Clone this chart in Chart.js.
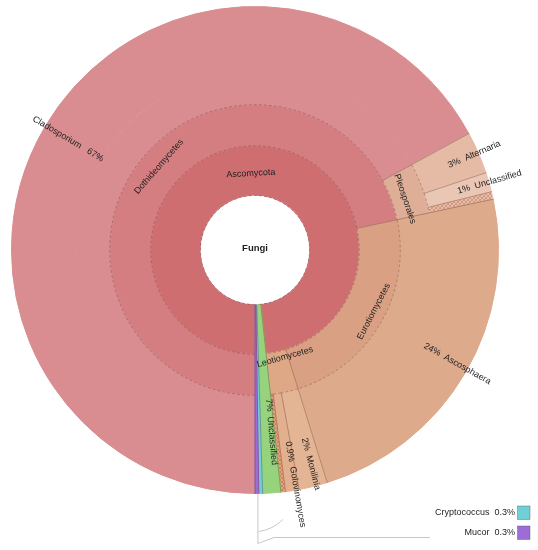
<!DOCTYPE html>
<html><head><meta charset="utf-8">
<script src="https://cdn.jsdelivr.net/npm/chart.js@4.4.1/dist/chart.umd.min.js"></script>
<style>html,body{margin:0;padding:0;background:#fff;}#wrap{position:relative;width:538px;height:550px;}</style>
</head><body><div id="wrap"><canvas id="c" width="538" height="550"></canvas></div>
<script>
// ---------------- data (percent of all reads) ----------------
const rootName = 'Fungi';
const leafNames   = ['Cladosporium','Alternaria','Unclassified','Other Pleosporales','Ascosphaera','Monilinia','Golovinomyces','Other Leotiomycetes','Unclassified','Cryptococcus','Mucor'];
const leafValues  = [67.2, 2.8, 1.3, 0.5, 23.6, 1.9, 0.9, 0.3, 1.2, 0.25, 0.25];
const leafPercentText = ['67%','3%','1%','','24%','2%','0.9%','','7%','0.3%','0.3%'];
const orderNames  = ['Capnodiales','Pleosporales','Onygenales','Helotiales','Erysiphales','Other Leotiomycetes','Unclassified','Cryptococcus','Mucor'];
const orderValues = [67.2, 4.6, 23.6, 1.9, 0.9, 0.3, 1.2, 0.25, 0.25];
const classNames  = ['Dothideomycetes','Eurotiomycetes','Leotiomycetes','Unclassified','Cryptococcus','Mucor'];
const classValues = [71.8, 23.6, 3.1, 1.2, 0.25, 0.25];
const phylumNames  = ['Ascomycota','Unclassified','Basidiomycota','Mucoromycota'];
const phylumValues = [98.5, 1.2, 0.25, 0.25];
const keyNames = ['Cryptococcus','Mucor'];
const keyPercentText = ['0.3%','0.3%'];

// ---------------- styles ----------------
function hatch(base, line){
  const c=document.createElement('canvas');c.width=4;c.height=4;
  const g=c.getContext('2d');g.fillStyle=base;g.fillRect(0,0,4,4);
  g.strokeStyle=line;g.lineWidth=0.8;g.beginPath();g.moveTo(0,4);g.lineTo(4,0);g.moveTo(0,0);g.lineTo(4,4);g.stroke();
  return g.createPattern(c,'repeat');
}
const col = {
  clad:'#d98d90', doth:'#d57e81', ascomy:'#cf6e71',
  alt:'#e5bba6', pleoUnc:'#eac6b4', pleo:'#dfae97',
  ascos:'#deaa8c', euro:'#d9a084',
  monil:'#e4b594', golov:'#e2b08f', leo:'#dea886',
  unc:'#97d27c', crypto:'#6fd0d5', mucor:'#9c6dd7',
  pleoH:'#e8bea8', leoH:'#e2a67e'
};
const pleoHatch = hatch(col.pleoH,'#c99278');
const leoHatch = hatch(col.leoH,'#c17c55');
const leafColors   = [col.clad,col.alt,col.pleoUnc,pleoHatch,col.ascos,col.monil,col.golov,leoHatch,col.unc,col.crypto,col.mucor];
const leafEdge     = [col.clad,col.alt,col.pleoUnc,col.pleoH,col.ascos,col.monil,col.golov,col.leoH,col.unc,col.crypto,col.mucor];
const orderColors  = [col.clad,col.pleo,col.ascos,col.monil,col.golov,leoHatch,col.unc,col.crypto,col.mucor];
const orderEdge    = [col.clad,col.pleo,col.ascos,col.monil,col.golov,col.leoH,col.unc,col.crypto,col.mucor];
const classColors  = [col.doth,col.euro,col.leo,col.unc,col.crypto,col.mucor];
const phylumColors = [col.ascomy,col.unc,col.crypto,col.mucor];

const FONT = '"Liberation Sans", Arial, sans-serif';
const TXT = '#1e1e1e';

// label layout
const labelSpecs = [
  {ds:3,i:0,text:phylumNames[0],mode:'tangent',f:0.44},
  {ds:2,i:0,text:classNames[0],mode:'tangent',f:0.56,dA:2},
  {ds:2,i:1,text:classNames[1],mode:'tangent',f:0.72,dA:-3},
  {ds:2,i:2,text:classNames[2],mode:'tangent',f:0.17,dA:-4},
  {ds:1,i:1,text:orderNames[1],mode:'tangent',f:0.4,dA:1.5},
  {ds:0,i:0,mode:'radial',innerDs:1,shift:23,center:true},
  {ds:0,i:1,mode:'radial',innerDs:0},
  {ds:0,i:2,mode:'radial',innerDs:0},
  {ds:0,i:4,mode:'radial',innerDs:1,dA:-1},
  {ds:0,i:5,mode:'radial',innerDs:1,dA:-0.8},
  {ds:0,i:6,mode:'radial',innerDs:1,dA:-1},
  {ds:0,i:8,mode:'radial',innerDs:3,dA:-1.2}
];

const bordersPlugin = {
  id:'kronaBorders',
  afterDatasetsDraw(chart){
    const ctx=chart.ctx, ds=chart.data.datasets, n=ds.length;
    ctx.save();
    ctx.strokeStyle='rgba(105,55,50,0.55)';
    ctx.lineWidth=0.7;
    for(let d=0;d<n;d++){
      const meta=chart.getDatasetMeta(d);
      const inner = d+1<n ? chart.getDatasetMeta(d+1) : null;
      const cols=ds[d].backgroundColor;
      meta.data.forEach((arc,i)=>{
        const p=arc.getProps(['x','y','startAngle','endAngle','innerRadius','outerRadius'],true);
        const ro=p.outerRadius+(d===0?0.5:0), ri=p.innerRadius-(d===n-1?0.5:0);
        ctx.setLineDash([]);
        ctx.beginPath();
        ctx.moveTo(p.x+ri*Math.cos(p.startAngle),p.y+ri*Math.sin(p.startAngle));
        ctx.lineTo(p.x+ro*Math.cos(p.startAngle),p.y+ro*Math.sin(p.startAngle));
        ctx.stroke();
        let cont=false;
        if(inner){
          const icols=ds[d+1].backgroundColor;
          inner.data.forEach((ia,j)=>{
            if(Math.abs(ia.startAngle-p.startAngle)<1e-6&&Math.abs(ia.endAngle-p.endAngle)<1e-6&&icols[j]===cols[i])cont=true;
          });
        }
        if(!cont){
          ctx.setLineDash([3,2]);
          ctx.beginPath();ctx.arc(p.x,p.y,ri,p.startAngle,p.endAngle);ctx.stroke();
        }
      });
    }
    ctx.restore();
  }
};

const labelsPlugin = {
  id:'kronaLabels',
  afterDraw(chart){
    const ctx=chart.ctx;
    ctx.save();
    ctx.fillStyle=TXT;
    ctx.textBaseline='middle';
    const a0=chart.getDatasetMeta(3).data[0];
    ctx.font='bold 9.5px '+FONT;ctx.textAlign='center';
    ctx.fillText(rootName,a0.x,a0.y-2);
    ctx.font='9px '+FONT;
    labelSpecs.forEach(s=>{
      const arc=chart.getDatasetMeta(s.ds).data[s.i];
      const p=arc.getProps(['x','y','startAngle','endAngle','innerRadius','outerRadius'],true);
      const a=(p.startAngle+p.endAngle)/2+(s.dA||0)*Math.PI/180;
      ctx.save();
      if(s.mode==='tangent'){
        const r=p.innerRadius+s.f*(p.outerRadius-p.innerRadius);
        ctx.translate(p.x+r*Math.cos(a),p.y+r*Math.sin(a));
        ctx.rotate(Math.sin(a)>0 ? a-Math.PI/2 : a+Math.PI/2);
        ctx.textAlign='center';
        ctx.fillText(s.text,0,0);
      } else {
        const ir=chart.getDatasetMeta(s.innerDs).data[0].innerRadius;
        const r0=(ir+p.outerRadius)/2+(s.shift||0);
        const name=leafNames[s.i], pct=leafPercentText[s.i];
        ctx.translate(p.x+r0*Math.cos(a),p.y+r0*Math.sin(a));
        if(Math.cos(a)>=0){
          ctx.rotate(a);ctx.textAlign=s.center?'center':'left';
          ctx.fillText(pct+'  '+name,0,0);
        } else {
          ctx.rotate(a+Math.PI);ctx.textAlign=s.center?'center':'right';
          ctx.fillText(name+'   '+pct,0,0);
        }
      }
      ctx.restore();
    });
    // leader lines from small wedges to key
    const m=chart.getDatasetMeta(0).data[leafValues.length-1];
    const mp=m.getProps(['x','y','startAngle','endAngle','outerRadius'],true);
    const ma=(mp.startAngle+mp.endAngle)/2;
    const lx=mp.x+mp.outerRadius*Math.cos(ma), ly=mp.y+mp.outerRadius*Math.sin(ma);
    ctx.strokeStyle='#b9b9b9';ctx.lineWidth=0.8;
    ctx.beginPath();ctx.moveTo(lx+1,ly);ctx.lineTo(lx+1,ly+50);ctx.lineTo(lx+17,ly+44);ctx.lineTo(lx+173,ly+44);ctx.stroke();
    ctx.beginPath();ctx.moveTo(lx+2,ly+38);ctx.quadraticCurveTo(lx+16,ly+36,lx+26,ly+26);ctx.stroke();
    // key
    const kx=chart.width-8, ky=[506,526];
    const kc=[col.crypto,col.mucor];
    ctx.font='9px '+FONT;ctx.textAlign='right';ctx.fillStyle=TXT;
    keyNames.forEach((k,i)=>{
      ctx.fillStyle=kc[i];ctx.fillRect(kx-12.5,ky[i],12.5,13.5);
      ctx.strokeStyle='rgba(90,90,90,0.7)';ctx.lineWidth=0.6;ctx.strokeRect(kx-12.5,ky[i],12.5,13.5);
      ctx.fillStyle=TXT;
      ctx.fillText(k+'  '+keyPercentText[i],kx-15,ky[i]+7);
    });
    ctx.restore();
  }
};

new Chart(document.getElementById('c'),{
  type:'doughnut',
  data:{
    labels:leafNames,
    datasets:[
      {data:leafValues,backgroundColor:leafColors,borderColor:leafEdge,weight:65},
      {data:orderValues,backgroundColor:orderColors,borderColor:orderEdge,weight:33},
      {data:classValues,backgroundColor:classColors,borderColor:classColors,weight:41},
      {data:phylumValues,backgroundColor:phylumColors,borderColor:phylumColors,weight:49}
    ].map(d=>Object.assign(d,{borderWidth:1,hoverOffset:0,offset:0}))
  },
  options:{
    responsive:false,animation:false,events:[],
    rotation:180,cutout:'22.6%',
    layout:{padding:{left:11,top:6,right:39,bottom:56}},
    plugins:{legend:{display:false},tooltip:{enabled:false}}
  },
  plugins:[bordersPlugin,labelsPlugin]
});
</script></body></html>
